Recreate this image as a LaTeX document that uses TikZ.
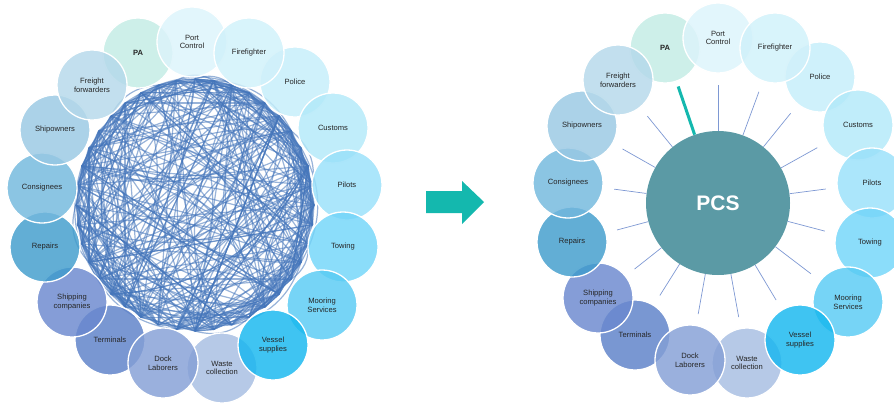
\documentclass[tikz,border=0pt]{standalone}
\usepackage{fontspec}
\setmainfont{Liberation Sans}
\usepackage{tikz}
\usetikzlibrary{positioning}
\usetikzlibrary{arrows}

\definecolor{txtgray}{HTML}{262626}
\definecolor{meshblue}{HTML}{4475BA}
\definecolor{spokeblue}{HTML}{7E98D3}
\definecolor{pcsteal}{HTML}{5B9AA5}
\definecolor{arrowteal}{HTML}{14B8AE}
\definecolor{cPA}{HTML}{C2ECE4}
\definecolor{cPort}{HTML}{DCF4FB}
\definecolor{cFire}{HTML}{D0F1FA}
\definecolor{cPolice}{HTML}{C4EEFA}
\definecolor{cCustoms}{HTML}{B2E9F9}
\definecolor{cPilots}{HTML}{98E0FA}
\definecolor{cTowing}{HTML}{72D5F9}
\definecolor{cMooring}{HTML}{58CBF4}
\definecolor{cVessel}{HTML}{15B7EF}
\definecolor{cWaste}{HTML}{A6BDE2}
\definecolor{cDock}{HTML}{849FD6}
\definecolor{cTerminals}{HTML}{5C80C8}
\definecolor{cShipping}{HTML}{6A88CE}
\definecolor{cRepairs}{HTML}{3F9CCC}
\definecolor{cConsignees}{HTML}{72B8DD}
\definecolor{cShipowners}{HTML}{98C8E3}
\definecolor{cFreight}{HTML}{B4D8EA}

\tikzset{
    member/.style={circle, draw=white, line width=1.3pt, fill opacity=0.82,
        text opacity=1, minimum size=70pt, inner sep=0pt, align=center,
        text=txtgray, font=\fontsize{7.6}{8.8}\selectfont},
    spoke/.style={draw=spokeblue, line width=0.7pt, shorten >=11pt},
    hub/.style={circle, fill=pcsteal, minimum size=144pt, inner sep=0pt,
        text=white, font=\fontsize{21}{24}\selectfont\bfseries},
    tangle/.style={meshblue, opacity=0.55, line width=1.2pt},
}

\begin{document}
\begin{tikzpicture}[x=1pt,y=-1pt]
    \useasboundingbox (0,0) rectangle (894,407);
    \clip (0,0) rectangle (894,407);

    % tangled links, before the port community system
    \pgfmathsetseed{11}
    \foreach \k in {1,...,240} {
        \pgfmathrandominteger{\a}{0}{39}
        \pgfmathrandominteger{\b}{0}{39}
        \draw[tangle]
            ({195+119*cos(9*\a)},{205+126*sin(9*\a)}) --
            ({195+119*cos(9*\b)},{205+126*sin(9*\b)});
    }
    \foreach \k in {1,...,90} {
        \pgfmathrandominteger{\a}{0}{39}
        \pgfmathrandominteger{\b}{0}{39}
        \draw[tangle]
            ({195+119*cos(9*\a)},{205+126*sin(9*\a)}) to[bend left=30]
            ({195+119*cos(9*\b)},{205+126*sin(9*\b)});
    }
    \foreach \k in {0,...,39} {
        \draw[tangle]
            ({195+119*cos(9*\k)},{205+126*sin(9*\k)}) --
            ({195+119*cos(9*\k+27)},{205+126*sin(9*\k+27)});
        \draw[tangle]
            ({195+119*cos(9*\k)},{205+126*sin(9*\k)}) --
            ({195+119*cos(9*\k+54)},{205+126*sin(9*\k+54)});
    }

    % left ring
    \foreach \tag/\x/\y/\col/\txt in {
        pol/295/82/cPolice/Police,
        pa/138/53/cPA/\textbf{PA},
        port/192/42/cPort/{Port\\Control},
        fire/249/53/cFire/Firefighter,
        cus/333/128/cCustoms/Customs,
        pil/347/185/cPilots/Pilots,
        tow/343/247/cTowing/Towing,
        moor/322/305/cMooring/{Mooring\\Services},
        was/222/368/cWaste/{Waste\\collection},
        ves/273/345/cVessel/{Vessel\\supplies},
        ter/110/340/cTerminals/Terminals,
        dock/163/363/cDock/{Dock\\Laborers},
        ship/72/302/cShipping/{Shipping\\companies},
        rep/45/247/cRepairs/Repairs,
        con/42/188/cConsignees/Consignees,
        own/55/130/cShipowners/Shipowners,
        frei/92/85/cFreight/{Freight\\forwarders}}
        \node[member, fill=\col] (l-\tag) at (\x,\y) {\txt};

    % arrow
    \fill[arrowteal] (426,191) -- (462,191) -- (462,181) -- (484,202)
        -- (462,224) -- (462,213) -- (426,213) -- cycle;

    % right ring with the hub
    \node[hub] (pcs) at (718,203) {PCS};
    \foreach \tag/\x/\y/\col/\txt in {
        pol/820/77/cPolice/Police,
        pa/665/48/cPA/\textbf{PA},
        port/718/38/cPort/{Port\\Control},
        fire/775/48/cFire/Firefighter,
        cus/858/125/cCustoms/Customs,
        pil/872/183/cPilots/Pilots,
        tow/870/243/cTowing/Towing,
        moor/848/302/cMooring/{Mooring\\Services},
        was/747/363/cWaste/{Waste\\collection},
        ves/800/340/cVessel/{Vessel\\supplies},
        ter/635/335/cTerminals/Terminals,
        dock/690/360/cDock/{Dock\\Laborers},
        ship/598/298/cShipping/{Shipping\\companies},
        rep/572/242/cRepairs/Repairs,
        con/568/183/cConsignees/Consignees,
        own/582/126/cShipowners/Shipowners,
        frei/618/80/cFreight/{Freight\\forwarders}}
        \node[member, fill=\col] (r-\tag) at (\x,\y) {\txt};

    \foreach \tag in {port,fire,pol,cus,pil,tow,moor,ves,was,dock,ter,ship,rep,con,own,frei}
        \draw[spoke] (pcs) -- (r-\tag);
    \draw[arrowteal, line width=3pt, shorten >=5pt] (pcs) -- (r-pa);
\end{tikzpicture}
\end{document}
